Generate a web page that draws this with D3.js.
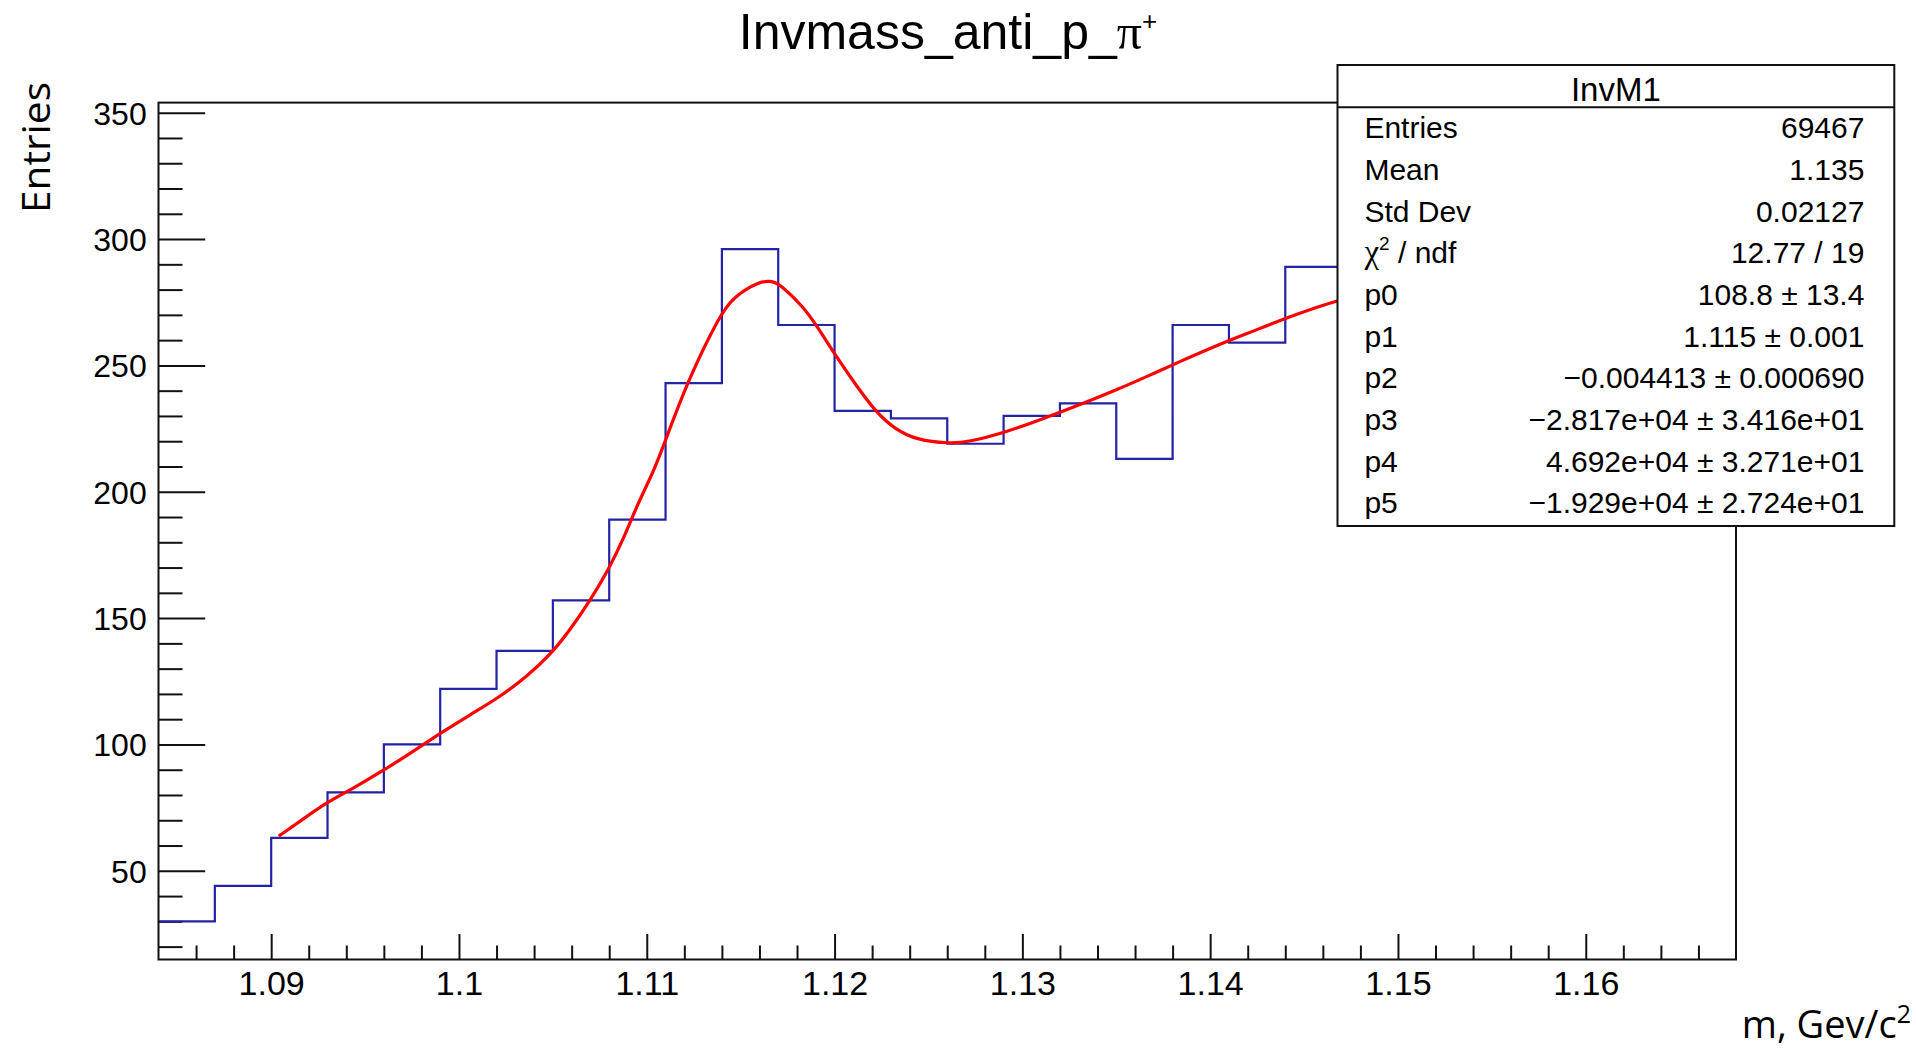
<!DOCTYPE html>
<html>
<head>
<meta charset="utf-8">
<script src="https://cdn.jsdelivr.net/npm/d3@7"></script>
<style>
  html, body { margin: 0; padding: 0; background: #fff; }
  svg { display: block; }
</style>
</head>
<body>
<svg id="chart" width="1916" height="1049"></svg>
<script>
// ---------------- data ----------------
const binLow = [1.084, 1.087, 1.090, 1.093, 1.096, 1.099, 1.102, 1.105, 1.108, 1.111,
                1.114, 1.117, 1.120, 1.123, 1.126, 1.129, 1.132, 1.135, 1.138, 1.141, 1.144];
const binCounts = [30, 44, 63, 81, 100, 122, 137, 157, 189, 243,
                   296, 266, 232, 229, 219, 230, 235, 213, 266, 259, 289];
const binWidth = 0.003;

const fitX = [1.0904, 1.0915, 1.0930, 1.0942, 1.0960, 1.0974, 1.0990, 1.1004, 1.1022, 1.1036,
              1.1049, 1.1059, 1.1070, 1.1080, 1.1088, 1.1095, 1.1104, 1.1110, 1.1122, 1.1139,
              1.1146, 1.1160, 1.1167, 1.1171, 1.1183, 1.1190, 1.1201, 1.1212, 1.1222, 1.1232,
              1.1244, 1.1261, 1.1271, 1.1291, 1.1306, 1.1320, 1.1330, 1.1346, 1.1367, 1.1381,
              1.1407, 1.1421, 1.1440, 1.1468, 1.1500];
const fitY = [63.7, 69.4, 77.3, 81.9, 89.8, 96.5, 104.4, 110.9, 118.9, 126.8,
              135.8, 145.2, 157.1, 169.7, 182.0, 195.0, 208.6, 220.4, 244.2, 270.0,
              277.0, 283.4, 283.4, 282.0, 273.5, 266.3, 253.4, 241.5, 231.6, 224.8,
              220.4, 219.1, 219.6, 223.6, 227.5, 231.4, 234.3, 239.0, 245.8, 250.6,
              259.0, 263.0, 268.6, 276.1, 281.0];

const xDomain = [1.084, 1.168];
const yDomain = [14.9, 354];
const xMajorTicks = [1.09, 1.10, 1.11, 1.12, 1.13, 1.14, 1.15, 1.16];
const xTickLabels = ["1.09", "1.1", "1.11", "1.12", "1.13", "1.14", "1.15", "1.16"];
const yMajorTicks = [50, 100, 150, 200, 250, 300, 350];
const yTickLabels = ["50", "100", "150", "200", "250", "300", "350"];

const chartTitle = "Invmass_anti_p_";
const statTitle = "InvM1";
const statLabels = ["Entries", "Mean", "Std Dev", "CHI2", "p0", "p1", "p2", "p3", "p4", "p5"];
const statValues = ["69467", "1.135", "0.02127", "12.77 / 19", "108.8 \u00b1 13.4", "1.115 \u00b1 0.001",
                    "\u22120.004413 \u00b1 0.000690", "\u22122.817e+04 \u00b1 3.416e+01",
                    "4.692e+04 \u00b1 3.271e+01", "\u22121.929e+04 \u00b1 2.724e+01"];
const yAxisTitle = "Entries";
const xAxisTitle = "m, Gev/c";

// ---------------- layout ----------------
const svg = d3.select("#chart");
const L = 158.5, R = 1736, T = 102.6, B = 959.5;
const x = d3.scaleLinear().domain(xDomain).range([L, R]);
const y = d3.scaleLinear().domain(yDomain).range([B, T]);
const sans = "'Liberation Sans', Arial, Helvetica, sans-serif";
const serif = "'Liberation Serif', 'DejaVu Serif', serif";

svg.append("rect").attr("width", 1916).attr("height", 1049).attr("fill", "#fff");

// minor tick values
const xMinor = d3.range(1.086, 1.1665, 0.002).map(v => +v.toFixed(3))
  .filter(v => !xMajorTicks.some(m => Math.abs(m - v) < 1e-9));
const yMinor = d3.range(20, 351, 10).filter(v => v % 50 !== 0);

// Y axis
const yAxisMajor = d3.axisLeft(y).tickValues(yMajorTicks)
  .tickFormat((d, i) => yTickLabels[i]).tickSize(-46.7).tickPadding(11.8);
const gy = svg.append("g").attr("transform", `translate(${L},0)`).call(yAxisMajor);
const yAxisMinor = d3.axisLeft(y).tickValues(yMinor).tickFormat("").tickSize(-24);
const gy2 = svg.append("g").attr("transform", `translate(${L},0)`).call(yAxisMinor);

// X axis
const xAxisMajor = d3.axisBottom(x).tickValues(xMajorTicks)
  .tickFormat((d, i) => xTickLabels[i]).tickSize(-25.5).tickPadding(9);
const gx = svg.append("g").attr("transform", `translate(0,${B})`).call(xAxisMajor);
const xAxisMinor = d3.axisBottom(x).tickValues(xMinor).tickFormat("").tickSize(-14);
const gx2 = svg.append("g").attr("transform", `translate(0,${B})`).call(xAxisMinor);

[gy, gy2, gx, gx2].forEach(g => {
  g.select(".domain").remove();
  g.selectAll(".tick line").attr("stroke", "#111").attr("stroke-width", 2);
});
gy.selectAll(".tick text").attr("font-family", sans).attr("font-size", 32).attr("fill", "#000")
  .attr("dy", "0.36em");
gx.selectAll(".tick text").attr("font-family", sans).attr("font-size", 34).attr("fill", "#000")
  .attr("dy", "0.78em");

// histogram (step outline)
const histPts = binLow.map((b, i) => [b, binCounts[i]]);
histPts.push([binLow[binLow.length - 1] + binWidth, binCounts[binCounts.length - 1]]);
const histLine = d3.line().x(d => x(d[0])).y(d => y(d[1])).curve(d3.curveStepAfter);
svg.append("path").attr("d", histLine(histPts))
  .attr("fill", "none").attr("stroke", "#2323a6").attr("stroke-width", 2.2);

// fit curve
const fitLine = d3.line().x((d, i) => x(fitX[i])).y((d, i) => y(fitY[i])).curve(d3.curveBasis);
svg.append("path").attr("d", fitLine(fitX))
  .attr("fill", "none").attr("stroke", "#ff0000").attr("stroke-width", 3.2)
  .attr("stroke-linejoin", "round");

// frame
svg.append("rect").attr("x", L).attr("y", T).attr("width", R - L).attr("height", B - T)
  .attr("fill", "none").attr("stroke", "#111").attr("stroke-width", 2);

// title
const title = svg.append("text").attr("x", 948).attr("y", 49).attr("text-anchor", "middle")
  .attr("font-family", sans).attr("font-size", 50).attr("fill", "#000");
title.append("tspan").text(chartTitle);
title.append("tspan").attr("font-family", serif).attr("font-size", 50).text("\u03c0");
title.append("tspan").attr("font-size", 26).attr("dy", -19).text("+");

// stats box
const bx0 = 1337.5, bx1 = 1894.3, by0 = 65, by1 = 526;
svg.append("rect").attr("x", bx0).attr("y", by0).attr("width", bx1 - bx0).attr("height", by1 - by0)
  .attr("fill", "#fff").attr("stroke", "#111").attr("stroke-width", 2);
svg.append("line").attr("x1", bx0).attr("x2", bx1).attr("y1", 107.3).attr("y2", 107.3)
  .attr("stroke", "#111").attr("stroke-width", 2);
svg.append("text").attr("x", (bx0 + bx1) / 2).attr("y", 100.5).attr("text-anchor", "middle")
  .attr("font-family", sans).attr("font-size", 33).attr("fill", "#000").text(statTitle);

statLabels.forEach((lab, i) => {
  const yy = 138.3 + i * 41.67;
  const t = svg.append("text").attr("x", 1364.4).attr("y", yy)
    .attr("font-family", sans).attr("font-size", 30).attr("fill", "#000");
  if (lab === "CHI2") {
    t.append("tspan").attr("font-family", serif).attr("font-size", 33).text("\u03c7");
    t.append("tspan").attr("font-size", 19).attr("dy", -13).text("2");
    t.append("tspan").attr("dy", 13).text(" / ndf");
  } else {
    t.text(lab);
  }
  svg.append("text").attr("x", 1864.4).attr("y", yy).attr("text-anchor", "end")
    .attr("font-family", sans).attr("font-size", 30).attr("fill", "#000").text(statValues[i]);
});

// axis titles
svg.append("text").attr("transform", "translate(50,213) rotate(-90)")
  .attr("font-family", "'Open Sans', Lato, sans-serif").attr("font-size", 38).attr("fill", "#000")
  .attr("textLength", 131).attr("lengthAdjust", "spacingAndGlyphs").text(yAxisTitle);

const xt = svg.append("text").attr("x", 1911).attr("y", 1038).attr("text-anchor", "end")
  .attr("font-family", "'Open Sans', Lato, sans-serif").attr("font-size", 38).attr("fill", "#000");
xt.append("tspan").text(xAxisTitle);
xt.append("tspan").attr("font-size", 25).attr("dy", -15).text("2");
</script>
</body>
</html>
